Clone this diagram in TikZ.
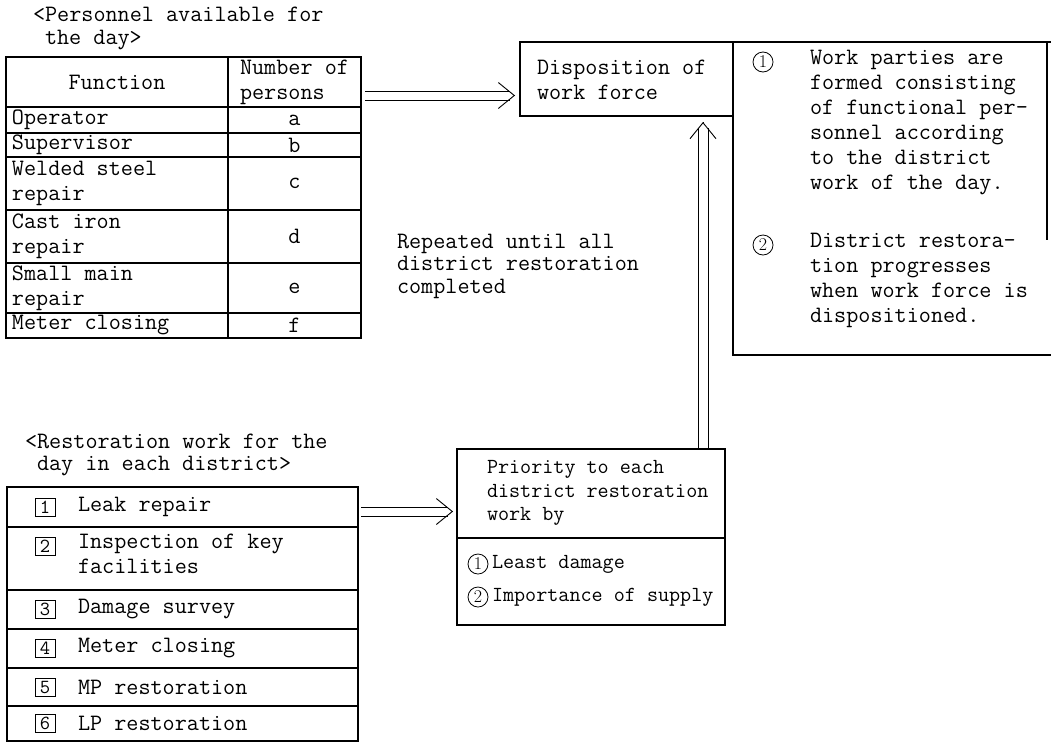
\documentclass[tikz,border=0pt]{standalone}
\usepackage{fontspec}
\usetikzlibrary{arrows.meta,calc}
\begin{document}
\begin{tikzpicture}[x=1pt,y=-1pt,
  txt/.style={font=\ttfamily\fontsize{23.5}{25}\selectfont, inner sep=0pt, outer sep=0pt, align=left},
  stxt/.style={font=\ttfamily\fontsize{21.5}{23.5}\selectfont, inner sep=0pt, outer sep=0pt, align=left},
  rbox/.style={draw, line width=1.1pt, inner sep=0pt, outer sep=0pt, anchor=north west},
  rule/.style={line width=1.1pt},
  rail/.style={line width=0.9pt},
  headonly/.style={-{Straight Barb[length=16pt,width=26pt,line width=0.9pt]}},
  circnum/.style={circle, draw, line width=0.8pt, inner sep=0pt, minimum size=20pt, font=\rmfamily\fontsize{18}{18}\selectfont},
  sqnum/.style={draw, line width=0.8pt, inner sep=0pt, minimum width=20pt, minimum height=18pt, font=\ttfamily\fontsize{20}{20}\selectfont}
]
\useasboundingbox (0,0) rectangle (1051,745);

% ---------- personnel table ----------
\node[txt, anchor=west] (ph1) at (33,14) {<Personnel available for};
\node[txt, anchor=west] (ph2) at (45,40) {the day>};
\node[rbox, minimum width=355pt, minimum height=281pt] (ptab) at (6,57) {};
\draw[rule] (228,57) -- (228,338);
\foreach \yy in {107,133,157,210,263,313} \draw[rule] (6,\yy) -- (361,\yy);
\node[txt] (fh) at (117,82) {Function};
\node[txt] (nh) at (294.5,82) {Number of\\persons};
\node[txt, anchor=west] (f1) at (12,120) {Operator};
\node[txt, anchor=west] (f2) at (12,145) {Supervisor};
\node[txt, anchor=west] (f3) at (12,183.5) {Welded steel\\repair};
\node[txt, anchor=west] (f4) at (12,236.5) {Cast iron\\repair};
\node[txt, anchor=west] (f5) at (12,288) {Small main\\repair};
\node[txt, anchor=west] (f6) at (12,325.5) {Meter closing};
\node[txt] (n1) at (294.5,120) {a};
\node[txt] (n2) at (294.5,145) {b};
\node[txt] (n3) at (294.5,183.5) {c};
\node[txt] (n4) at (294.5,236.5) {d};
\node[txt] (n5) at (294.5,288) {e};
\node[txt] (n6) at (294.5,325.5) {f};

% ---------- disposition ----------
\node[rbox, minimum width=213pt, minimum height=74pt] (disp) at (520,42) {};
\node[txt, anchor=west] (dispt) at (537,80) {Disposition of\\work force};

% ---------- notes box ----------
\node[inner sep=0pt, outer sep=0pt, minimum width=318pt, minimum height=313pt, anchor=north west] (notes) at (733,42) {};
\draw[rule] (notes.north east) -- (notes.north west) -- (notes.south west) -- (notes.south east);
\draw[rule] (1047,42) -- (1047,240);
\node[circnum] (c1) at (763,62) {1};
\node[txt, anchor=north west] (nt1) at (810,50) {Work parties are\\formed consisting\\of functional per-\\sonnel according\\to the district\\work of the day.};
\node[circnum] (c2) at (763,245) {2};
\node[txt, anchor=north west] (nt2) at (810,233) {District restora-\\tion progresses\\when work force is\\dispositioned.};

% ---------- loop text ----------
\node[txt, anchor=west, font=\ttfamily\fontsize{23.5}{22.5}\selectfont] (rep) at (397,266) {Repeated until all\\district restoration\\completed};

% ---------- restoration list ----------
\node[txt, anchor=west] (rh1) at (25,441) {<Restoration work for the};
\node[txt, anchor=west] (rh2) at (37,466) {day in each district>};
\node[rbox, minimum width=351pt, minimum height=254pt] (rlist) at (7,487) {};
\foreach \yy in {527,590,629,668,706} \draw[rule] (7,\yy) -- (358,\yy);
\node[sqnum] (s1) at (45,507) {1};
\node[txt, anchor=west] (r1) at (78,507) {Leak repair};
\node[sqnum] (s2) at (45,546) {2};
\node[txt, anchor=north west] (r2) at (78,534) {Inspection of key\\facilities};
\node[sqnum] (s3) at (45,609) {3};
\node[txt, anchor=west] (r3) at (78,609) {Damage survey};
\node[sqnum] (s4) at (45,648) {4};
\node[txt, anchor=west] (r4) at (78,648) {Meter closing};
\node[sqnum] (s5) at (45,687) {5};
\node[txt, anchor=west] (r5) at (78,687) {MP restoration};
\node[sqnum] (s6) at (45,723.5) {6};
\node[txt, anchor=west] (r6) at (78,723.5) {LP restoration};

% ---------- priority ----------
\node[rbox, minimum width=268pt, minimum height=176pt] (prio) at (457,449) {};
\draw[rule] (457,538) -- (725,538);
\node[stxt, anchor=west] (pt) at (487,493) {Priority to each\\district restoration\\work by};
\node[circnum] (p1) at (478,564) {1};
\node[stxt, anchor=west] (pt1) at (492,564) {Least damage};
\node[circnum] (p2) at (478,597) {2};
\node[stxt, anchor=west] (pt2) at (492,597) {Importance of supply};

% ---------- connectors (double-line arrows) ----------
\coordinate (ya) at (0,95.5);
\coordinate (yb) at (0,511.5);
\coordinate (xc) at (703,0);
% personnel table -> disposition
\coordinate (sa) at ($(ptab.east |- ya)+(4,0)$);
\coordinate (ta) at ($(disp.west |- ya)+(-5,0)$);
\draw[rail] ($(sa)+(0,-4.5)$) -- ($(ta)+(-5.5,-4.5)$);
\draw[rail] ($(sa)+(0,4.5)$) -- ($(ta)+(-5.5,4.5)$);
\draw[headonly] ($(ta)+(-0.1,0)$) -- (ta);
% restoration list -> priority
\coordinate (sb) at ($(rlist.east |- yb)+(3,0)$);
\coordinate (tb) at ($(prio.west |- yb)+(-4,0)$);
\draw[rail] ($(sb)+(0,-4.5)$) -- ($(tb)+(-5.5,-4.5)$);
\draw[rail] ($(sb)+(0,4.5)$) -- ($(tb)+(-5.5,4.5)$);
\draw[headonly] ($(tb)+(-0.1,0)$) -- (tb);
% priority -> disposition
\coordinate (sc) at (prio.north -| xc);
\coordinate (tc) at ($(disp.south -| xc)+(0,6)$);
\draw[rail] ($(sc)+(-5,0)$) -- ($(tc)+(-5,6)$);
\draw[rail] ($(sc)+(5,0)$) -- ($(tc)+(5,6)$);
\draw[headonly] ($(tc)+(0,0.1)$) -- (tc);
\end{tikzpicture}
\end{document}
